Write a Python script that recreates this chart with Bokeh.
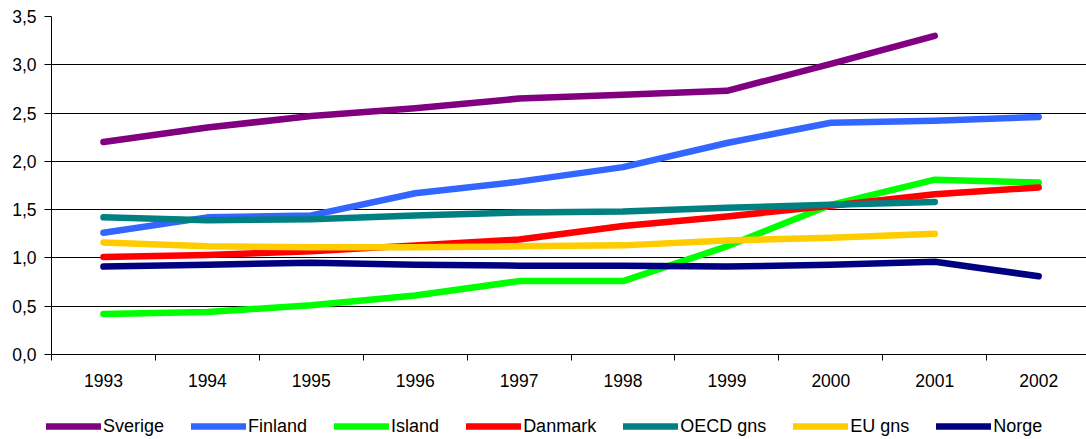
from bokeh.plotting import figure
from bokeh.layouts import column, row
from bokeh.models import Range1d, FixedTicker, Legend, LegendItem
from bokeh.embed import file_html
from bokeh.resources import INLINE

years = ["1993", "1994", "1995", "1996", "1997", "1998", "1999", "2000", "2001", "2002"]

sverige = [2.20, 2.35, 2.47, 2.55, 2.65, 2.69, 2.73, 3.01, 3.30]
finland = [1.26, 1.42, 1.44, 1.67, 1.79, 1.94, 2.19, 2.40, 2.42, 2.46]
island = [0.42, 0.44, 0.51, 0.61, 0.76, 0.76, 1.12, 1.55, 1.81, 1.78]
danmark = [1.01, 1.03, 1.07, 1.13, 1.19, 1.33, 1.43, 1.54, 1.66, 1.73]
oecd = [1.42, 1.39, 1.40, 1.44, 1.47, 1.48, 1.52, 1.55, 1.58]
eu = [1.16, 1.12, 1.11, 1.11, 1.12, 1.13, 1.18, 1.21, 1.25]
norge = [0.91, 0.93, 0.95, 0.93, 0.92, 0.92, 0.91, 0.93, 0.96, 0.81]

series_names = ["Sverige", "Finland", "Island", "Danmark", "OECD gns", "EU gns", "Norge"]
series_values = [sverige, finland, island, danmark, oecd, eu, norge]
series_colors = ["#800080", "#3366FF", "#00FF00", "#FF0000", "#008080", "#FFCC00", "#000080"]

y_ticks = [0.0, 0.5, 1.0, 1.5, 2.0, 2.5, 3.0, 3.5]
y_tick_labels = ["0,0", "0,5", "1,0", "1,5", "2,0", "2,5", "3,0", "3,5"]

FONT = "Liberation Sans"
LW = 6.5

p = figure(width=1086, height=405, output_backend="svg", toolbar_location=None,
           x_range=Range1d(0, 9.96), y_range=Range1d(0, 3.5),
           min_border_left=51, min_border_top=16, min_border_right=0, min_border_bottom=51)
p.outline_line_color = None
p.background_fill_color = "white"

# x axis: labels at category centres, tick marks between categories
centers = [i + 0.5 for i in range(len(years))]
p.xaxis.ticker = FixedTicker(ticks=centers, minor_ticks=list(range(len(years) + 1)))
p.xaxis.major_label_overrides = {c: y for c, y in zip(centers, years)}
p.xaxis.major_tick_out = 0
p.xaxis.major_tick_in = 0
p.xaxis.minor_tick_out = 6
p.xaxis.minor_tick_in = 0
p.xaxis.minor_tick_line_color = "black"
p.xaxis.axis_line_color = "black"
p.xaxis.major_label_standoff = 13
p.xaxis.major_label_text_font = FONT
p.xaxis.major_label_text_font_size = "17.5px"
p.xaxis.major_label_text_color = "black"

p.yaxis.ticker = FixedTicker(ticks=y_ticks, minor_ticks=[])
p.yaxis.major_label_overrides = {t: l for t, l in zip(y_ticks, y_tick_labels)}
p.yaxis.major_tick_out = 7
p.yaxis.major_tick_in = 0
p.yaxis.major_tick_line_color = "black"
p.yaxis.axis_line_color = "black"
p.yaxis.major_label_standoff = 8
p.yaxis.major_label_text_font = FONT
p.yaxis.major_label_text_font_size = "17.5px"
p.yaxis.major_label_text_color = "black"

p.xgrid.grid_line_color = None
p.ygrid.ticker = FixedTicker(ticks=y_ticks[1:])
p.ygrid.grid_line_color = "black"
p.ygrid.grid_line_width = 1

for name, vals, col in zip(series_names, series_values, series_colors):
    xs = centers[:len(vals)]
    p.line(xs, vals, line_color=col, line_width=LW, line_cap="round", line_join="round")

# legend strip below the chart (series drawn out of view, only the legend shows)
lg = figure(width=1086, height=34, output_backend="svg", toolbar_location=None,
            x_axis_location=None, y_axis_location=None,
            x_range=Range1d(0, 9.96), y_range=Range1d(10, 11),
            min_border_left=0, min_border_top=0, min_border_right=0, min_border_bottom=0)
lg.grid.visible = False
lg.outline_line_color = None

items = []
for name, vals, col in zip(series_names, series_values, series_colors):
    xs = centers[:len(vals)]
    r = lg.line(xs, vals, line_color=col, line_width=LW, line_cap="round", line_join="round")
    items.append(LegendItem(label=name, renderers=[r]))

legend = Legend(items=items, orientation="horizontal", location=(46, 2),
                glyph_width=55, glyph_height=14, label_height=22, label_standoff=2,
                spacing=27, padding=0, margin=0,
                label_text_font=FONT, label_text_font_size="18px", label_text_color="black",
                border_line_color=None, background_fill_alpha=0)
lg.add_layout(legend, "center")

layout = column(p, row(lg, spacing=0), spacing=0)
open("out.html", "w").write(file_html(layout, INLINE))
